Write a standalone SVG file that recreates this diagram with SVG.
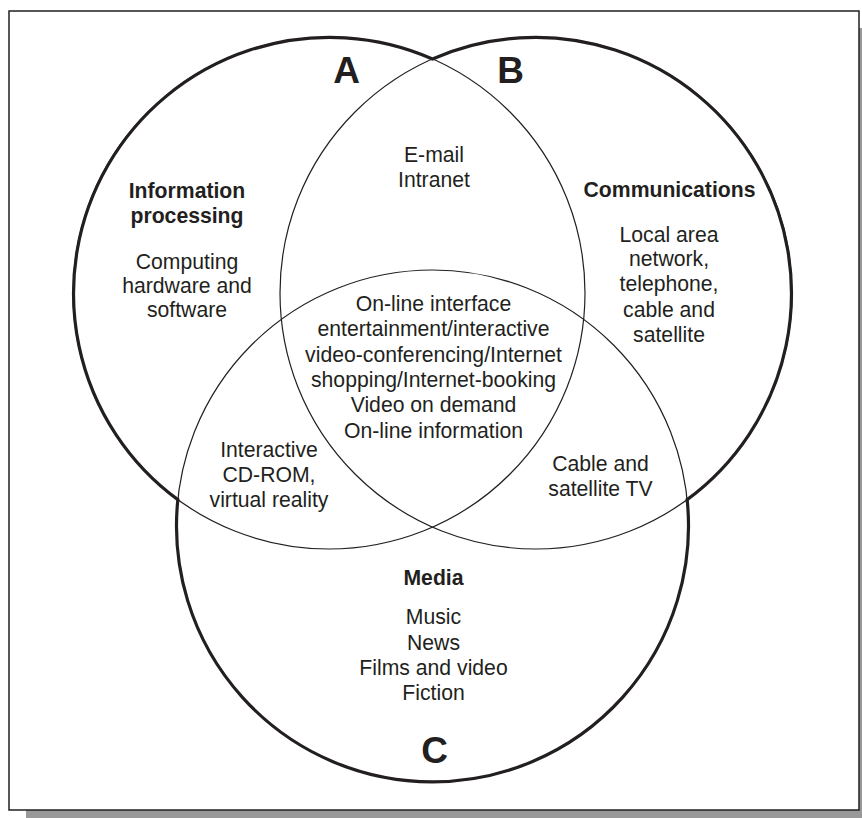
<svg xmlns="http://www.w3.org/2000/svg" width="862" height="818" viewBox="0 0 862 818">
<style>
text{font-family:"Liberation Sans",Arial,Helvetica,sans-serif;fill:#231f20;text-anchor:middle}
.b{font-size:21.2px}
.h{font-size:21.2px;font-weight:bold}
.l{font-size:37px;font-weight:bold}
.thin{fill:none;stroke:#231f20;stroke-width:1.2}
.thick{fill:none;stroke:#231f20;stroke-width:3.2}
</style>
<rect x="26" y="28" width="860" height="810" fill="#999999"/>
<rect x="9" y="11" width="850" height="799" fill="#ffffff" stroke="#231f20" stroke-width="1.5"/>
<g id="circleA"><circle class="thin" cx="329" cy="293" r="256"/></g>
<g id="circleB"><circle class="thin" cx="536" cy="293" r="256"/></g>
<g id="circleC"><circle class="thin" cx="432.5" cy="526" r="256"/></g>
<g id="connectors">
<path class="thick" d="M432.5 59 A256 256 0 0 0 177.85 499.6 A256 256 0 1 0 687.15 499.6 A256 256 0 0 0 432.5 59 Z"/>
</g>
<g id="labelA"><text class="l" x="346.5" y="83">A</text></g>
<g id="labelB"><text class="l" x="510.5" y="83">B</text></g>
<g id="labelC"><text class="l" x="434.5" y="763">C</text></g>
<g id="infoProcessing">
<text class="h" x="187" y="198">Information</text>
<text class="h" x="187" y="223">processing</text>
<text class="b" x="187" y="268.5">Computing</text>
<text class="b" x="187" y="292.7">hardware and</text>
<text class="b" x="187" y="316.7">software</text>
</g>
<g id="communications">
<text class="h" x="669.5" y="196.7">Communications</text>
<text class="b" x="669" y="241.7">Local area</text>
<text class="b" x="669" y="266.3">network,</text>
<text class="b" x="669" y="291">telephone,</text>
<text class="b" x="669" y="316.7">cable and</text>
<text class="b" x="669" y="342.3">satellite</text>
</g>
<g id="emailIntranet">
<text class="b" x="434" y="161.5">E-mail</text>
<text class="b" x="434" y="186.5">Intranet</text>
</g>
<g id="center">
<text class="b" x="433.5" y="311">On-line interface</text>
<text class="b" x="433.5" y="336.3">entertainment/interactive</text>
<text class="b" x="433.5" y="361.6">video-conferencing/Internet</text>
<text class="b" x="433.5" y="387">shopping/Internet-booking</text>
<text class="b" x="433.5" y="412.3">Video on demand</text>
<text class="b" x="433.5" y="437.6">On-line information</text>
</g>
<g id="interactiveCD">
<text class="b" x="269" y="457">Interactive</text>
<text class="b" x="269" y="482">CD-ROM,</text>
<text class="b" x="269" y="507.3">virtual reality</text>
</g>
<g id="cableTV">
<text class="b" x="600.5" y="470.7">Cable and</text>
<text class="b" x="600.5" y="495.7">satellite TV</text>
</g>
<g id="media">
<text class="h" x="433.5" y="585">Media</text>
<text class="b" x="433.5" y="624.3">Music</text>
<text class="b" x="433.5" y="649.6">News</text>
<text class="b" x="433.5" y="675">Films and video</text>
<text class="b" x="433.5" y="700.3">Fiction</text>
</g>
</svg>
